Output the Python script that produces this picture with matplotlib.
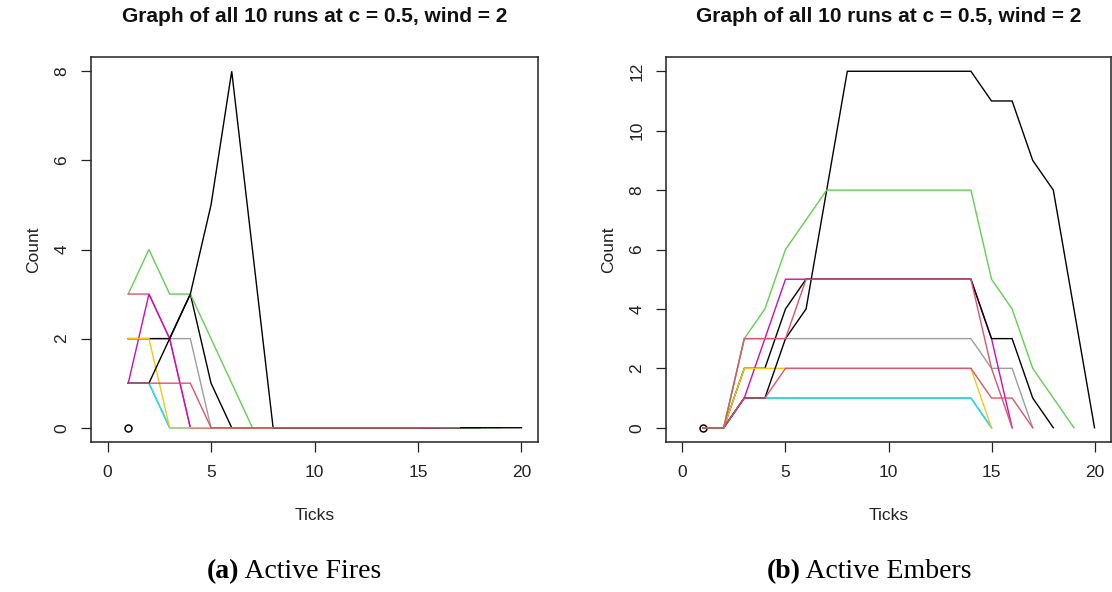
import matplotlib
matplotlib.use("Agg")
import matplotlib.pyplot as plt

plt.rcParams["font.family"] = ["Liberation Sans", "DejaVu Sans"]

# R 4.x default palette
BLACK = "#000000"
PINK = "#DF536B"
GREEN = "#61D04F"
BLUE = "#2297E6"
CYAN = "#28E2E5"
MAGENTA = "#CD0BBC"
YELLOW = "#F5C710"
GRAY = "#9E9E9E"

TITLE = "Graph of all 10 runs at c = 0.5, wind = 2"
x_ticks = [0, 5, 10, 15, 20]
fire_yticks = [0, 2, 4, 6, 8]
ember_yticks = [0, 2, 4, 6, 8, 10, 12]

# Active fires per tick (tick 1 onwards) for each run
fire_blue = [1, 1, 0, 0, 0, 0, 0, 0, 0, 0, 0, 0, 0, 0, 0]
fire_cyan = [1, 1, 0, 0, 0, 0, 0, 0, 0, 0, 0, 0, 0, 0, 0]
fire_gray = [2, 2, 2, 2, 0, 0, 0, 0, 0, 0, 0, 0, 0, 0, 0, 0, 0]
fire_black2 = [2, 2, 2, 3, 1, 0, 0, 0, 0, 0, 0, 0, 0, 0, 0, 0, 0, 0]
fire_black1 = [1, 1, 2, 3, 5, 8, 4, 0, 0, 0, 0, 0, 0, 0, 0, 0, 0, 0, 0, 0]
fire_yellow = [2, 2, 0, 0, 0, 0, 0, 0, 0, 0, 0, 0, 0, 0, 0]
fire_green = [3, 4, 3, 3, 2, 1, 0, 0, 0, 0, 0, 0, 0, 0, 0, 0, 0, 0, 0]
fire_pink1 = [3, 3, 2, 0, 0, 0, 0, 0, 0, 0, 0, 0, 0, 0, 0, 0]
fire_magenta = [1, 3, 2, 0, 0, 0, 0, 0, 0, 0, 0, 0, 0, 0, 0, 0]
fire_pink2 = [1, 1, 1, 1, 0, 0, 0, 0, 0, 0, 0, 0, 0, 0, 0, 0, 0]

# Active embers per tick (tick 1 onwards) for each run
ember_blue = [0, 0, 1, 1, 1, 1, 1, 1, 1, 1, 1, 1, 1, 1, 0]
ember_cyan = [0, 0, 1, 1, 1, 1, 1, 1, 1, 1, 1, 1, 1, 1, 0]
ember_gray = [0, 0, 3, 3, 3, 3, 3, 3, 3, 3, 3, 3, 3, 3, 2, 2, 0]
ember_yellow = [0, 0, 2, 2, 2, 2, 2, 2, 2, 2, 2, 2, 2, 2, 0]
ember_magenta = [0, 0, 1, 3, 5, 5, 5, 5, 5, 5, 5, 5, 5, 5, 3, 0]
ember_black2 = [0, 0, 2, 2, 4, 5, 5, 5, 5, 5, 5, 5, 5, 5, 3, 3, 1, 0]
ember_black1 = [0, 0, 1, 1, 3, 4, 8, 12, 12, 12, 12, 12, 12, 12, 11, 11, 9, 8, 4, 0]
ember_green = [0, 0, 3, 4, 6, 7, 8, 8, 8, 8, 8, 8, 8, 8, 5, 4, 2, 1, 0]
ember_pink1 = [0, 0, 3, 3, 3, 5, 5, 5, 5, 5, 5, 5, 5, 5, 2, 0]
ember_pink2 = [0, 0, 1, 1, 2, 2, 2, 2, 2, 2, 2, 2, 2, 2, 1, 1, 0]

# Drawing order (later lines sit on top)
fire_runs = [
    (fire_blue, BLUE), (fire_cyan, CYAN), (fire_gray, GRAY),
    (fire_black2, BLACK), (fire_green, GREEN), (fire_pink1, PINK),
    (fire_magenta, MAGENTA), (fire_yellow, YELLOW), (fire_black1, BLACK),
    (fire_pink2, PINK),
]
ember_runs = [
    (ember_blue, BLUE), (ember_cyan, CYAN), (ember_gray, GRAY),
    (ember_magenta, MAGENTA), (ember_black2, BLACK), (ember_yellow, YELLOW),
    (ember_black1, BLACK), (ember_green, GREEN),
    (ember_pink1, PINK), (ember_pink2, PINK),
]

W, H = 1112, 592
fig = plt.figure(figsize=(W / 100, H / 100), dpi=100)
fig.patch.set_facecolor("white")
renderer = fig.canvas.get_renderer()
SERIF = ["Liberation Serif", "DejaVu Serif"]


def px_rect(left, top, right, bottom):
    return [left / W, 1 - bottom / H, (right - left) / W, (bottom - top) / H]


def caption(center_x, y, bold_part, plain_part, size):
    # bold tag followed by the plain caption, centred as one line
    t1 = fig.text(0, 0, bold_part, fontsize=size, fontweight="bold",
                  family=SERIF, va="center", ha="left")
    t2 = fig.text(0, 0, " " + plain_part, fontsize=size, family=SERIF,
                  va="center", ha="left")
    w1 = t1.get_window_extent(renderer).width
    w2 = t2.get_window_extent(renderer).width
    x0 = center_x - (w1 + w2) / 2
    t1.set_position((x0 / W, 1 - y / H))
    t2.set_position(((x0 + w1) / W, 1 - y / H))


def draw_panel(rect, runs, yticks, caption_bold, caption_rest, cap_x):
    ax = fig.add_axes(px_rect(*rect))
    ymax = max(yticks)
    ax.set_xlim(-0.8, 20.8)
    ax.set_ylim(-0.04 * ymax, 1.04 * ymax)
    ax.plot([1], [0], marker="o", markersize=5, markerfacecolor="none",
            markeredgecolor=BLACK, markeredgewidth=1.1, linestyle="none")
    for values, color in runs:
        ticks = list(range(1, len(values) + 1))
        ax.plot(ticks, values, color=color, linewidth=1.0,
                solid_joinstyle="miter")
    ax.set_xticks(x_ticks)
    ax.set_yticks(yticks)
    ax.set_xticklabels([str(t) for t in x_ticks])
    ax.set_yticklabels([str(t) for t in yticks], rotation=90, va="center")
    ax.tick_params(direction="out", length=7.5, width=0.9, colors="#222222",
                   labelsize=12.5, pad=9)
    ax.tick_params(axis="y", pad=8)
    for sp in ax.spines.values():
        sp.set_linewidth(1.1)
        sp.set_color("#222222")
    left, top, right, bottom = rect
    cx = (left + right) / 2
    fig.text(cx / W, 1 - 16 / H, TITLE, ha="center", va="center",
             fontsize=15, fontweight="bold", color="#111111")
    fig.text(cx / W, 1 - 515 / H, "Ticks", ha="center", va="center",
             fontsize=12.5, color="#222222")
    fig.text((left - 57) / W, 1 - (top + bottom) / 2 / H, "Count",
             ha="center", va="center", rotation=90, fontsize=12.5,
             color="#222222")
    caption(cap_x, 572, caption_bold, caption_rest, 20)
    return ax


draw_panel((91, 57, 538, 442), fire_runs, fire_yticks, "(a)", "Active Fires", 294)
draw_panel((666, 57, 1111, 442), ember_runs, ember_yticks, "(b)", "Active Embers", 869)

fig.savefig("out.png", dpi=100, facecolor="white")
